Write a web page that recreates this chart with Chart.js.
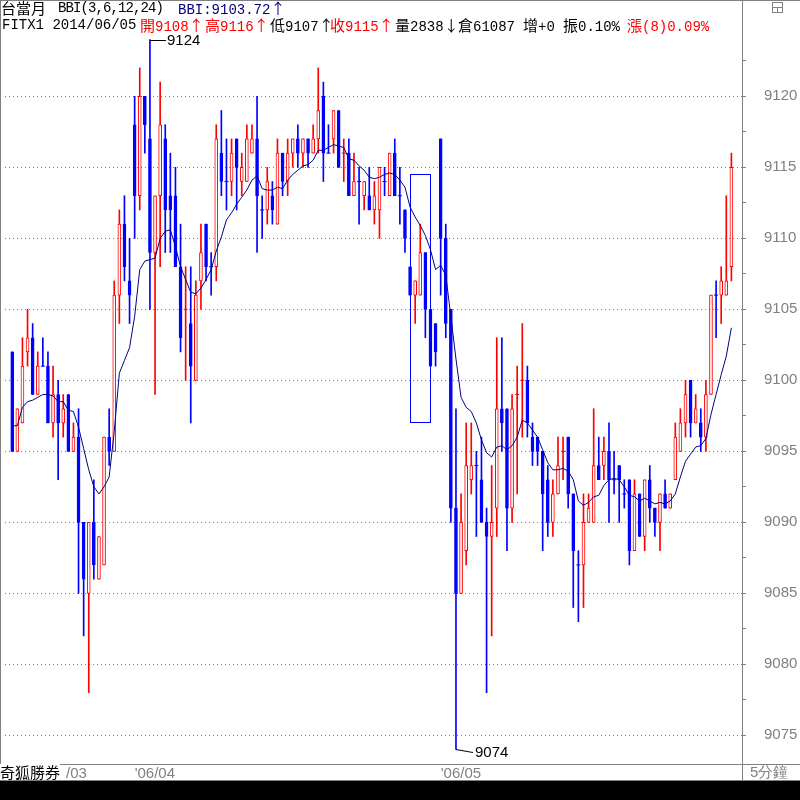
<!DOCTYPE html>
<html>
<head>
<meta charset="utf-8">
<script src="https://cdn.jsdelivr.net/npm/chart.js@4.4.1/dist/chart.umd.min.js"></script>
<style>
  body { margin: 0; background: #000; }
  #wrap { position: relative; width: 800px; height: 800px; background: #000; overflow: hidden; }
  #panel { position: absolute; left: 0; top: 0; width: 800px; height: 781px; background: #fff; }
  canvas { position: absolute; left: 0; top: 0; }
  .ln { position: absolute; background: #808080; }
  .t { position: absolute; white-space: pre; font-size: 14px; line-height: 16px;
       font-family: "Liberation Mono", "Noto Sans CJK TC", monospace; color: #000; }
  .cjk { font-family: "Noto Sans CJK TC", sans-serif; font-size: 15px; }
  .red { color: #ff0000; }
  .navy { color: #000080; }
  .ax { position: absolute; white-space: pre; font: 15px "Liberation Sans", sans-serif; color: #808080; line-height: 16px; }
</style>
</head>
<body>
<div id="wrap">
  <div id="panel"></div>
  <canvas id="chart" width="800" height="800"></canvas>

  <div class="ln" style="left:0;top:0;width:800px;height:1px"></div>
  <div class="ln" style="left:0;top:0;width:1px;height:781px"></div>
  <div class="ln" style="left:742px;top:0;width:1px;height:781px"></div>
  <div class="ln" style="left:0;top:764px;width:800px;height:1px"></div>
  <div class="ln" style="left:0;top:780px;width:800px;height:1px"></div>
  <div style="position:absolute;left:772px;top:2px;width:9px;height:9px;border:1px solid #808080"></div>
  <div class="ln" style="left:772px;top:7px;width:11px;height:1px"></div>
  <div class="ln" style="left:777px;top:7px;width:1px;height:5px"></div>

  <!-- header line 1 -->
  <div class="t cjk" style="left:1px;top:0px">台當月</div>
  <div class="t" style="left:58px;top:0px;letter-spacing:-0.9px">BBI(3,6,12,24)</div>
  <div class="t navy" style="left:178px;top:0px">BBI:9103.72<span class="cjk">↑</span></div>
  <!-- header line 2 -->
  <div class="t" style="left:2px;top:17px">FITX1 2014/06/05</div>
  <div class="t red" style="left:140px;top:17px"><span class="cjk">開</span>9108<span class="cjk">↑</span></div>
  <div class="t red" style="left:205px;top:17px"><span class="cjk">高</span>9116<span class="cjk">↑</span></div>
  <div class="t" style="left:270px;top:17px"><span class="cjk">低</span>9107<span class="cjk">↑</span></div>
  <div class="t red" style="left:330px;top:17px"><span class="cjk">收</span>9115<span class="cjk">↑</span></div>
  <div class="t" style="left:395px;top:17px"><span class="cjk">量</span>2838<span class="cjk">↓</span></div>
  <div class="t" style="left:458px;top:17px"><span class="cjk">倉</span>61087</div>
  <div class="t" style="left:523px;top:17px"><span class="cjk">增</span>+0</div>
  <div class="t" style="left:563px;top:17px"><span class="cjk">振</span>0.10%</div>
  <div class="t red" style="left:627px;top:17px"><span class="cjk">漲</span>(8)0.09%</div>

  <!-- bottom strip -->
  <div class="ax" style="left:66px;top:765px">/03</div>
  <div class="t cjk" style="left:0px;top:764px;background:#fff;line-height:16px">奇狐勝券</div>
  <div class="ax cjk" style="left:750px;top:764px;color:#808080">5分鐘</div>
</div>

<script>
// 5 minute bars, 06/03 (tail) - 06/04 - 06/05
const dayLabels = ["'06/04", "'06/05"];
const dayStarts = [24, 84];
const yTicks = [9075, 9080, 9085, 9090, 9095, 9100, 9105, 9110, 9115, 9120];

const opens = [
  9102, 9095, 9097, 9102, 9103, 9099, 9101, 9101, 9097, 9099, 9097, 9099, 9095, 9096, 9090, 9085, 9090, 9086, 9087, 9096, 9095, 9106, 9111, 9107,
  9118, 9113, 9120, 9117, 9109, 9113, 9117, 9113, 9113, 9108, 9105, 9104, 9100, 9107, 9111, 9108, 9108, 9116, 9114, 9114, 9117, 9114, 9114, 9116, 9117,
  9112, 9112, 9113, 9111, 9116, 9114, 9116, 9117, 9116, 9117, 9116, 9117, 9120, 9116, 9117, 9119, 9116, 9116, 9113, 9114, 9113, 9113, 9112, 9112, 9114, 9113, 9116, 9113,
  9112, 9108, 9106, 9106, 9109, 9105, 9104,
  9117, 9110, 9105, 9091, 9085, 9088, 9093, 9094, 9093, 9090, 9089, 9091, 9098, 9098, 9091, 9099, 9100, 9100, 9096, 9096, 9095, 9093, 9090, 9092, 9095, 9096,
  9092, 9087, 9087, 9090, 9090, 9094, 9094, 9095, 9093, 9094, 9092, 9093, 9088, 9092, 9089, 9093, 9091, 9090, 9092, 9091, 9093, 9095, 9097, 9100, 9097, 9097, 9096,
  9099, 9106, 9106, 9106, 9108
];
const highs = [
  9102, 9098, 9103, 9105, 9104, 9102, 9103, 9102, 9101, 9100, 9099, 9099, 9097, 9098, 9090, 9090, 9093, 9089, 9096, 9098, 9107, 9112, 9113, 9110,
  9120, 9122, 9120, 9124, 9113, 9121, 9118, 9116, 9115, 9111, 9108, 9108, 9107, 9111, 9111, 9109, 9118, 9119, 9117, 9117, 9117, 9116, 9118, 9118, 9120,
  9113, 9115, 9114, 9117, 9116, 9117, 9117, 9118, 9117, 9117, 9118, 9122, 9121, 9118, 9119, 9119, 9117, 9117, 9116, 9115, 9114, 9115, 9114, 9115, 9115, 9116, 9117, 9115,
  9112, 9108, 9107, 9111, 9109, 9105, 9104,
  9117, 9111, 9105, 9098, 9092, 9097, 9097, 9095, 9096, 9091, 9094, 9103, 9103, 9098, 9099, 9101, 9104, 9101, 9097, 9096, 9095, 9094, 9093, 9096, 9096, 9096,
  9092, 9088, 9092, 9092, 9098, 9096, 9096, 9097, 9095, 9094, 9093, 9093, 9093, 9092, 9093, 9094, 9091, 9092, 9093, 9092, 9097, 9098, 9100, 9100, 9099, 9098, 9100,
  9106, 9107, 9108, 9113, 9116
];
const lows = [
  9095, 9095, 9097, 9101, 9099, 9099, 9101, 9097, 9096, 9093, 9096, 9095, 9095, 9085, 9082, 9078, 9086, 9086, 9087, 9094, 9095, 9104, 9107, 9104,
  9110, 9112, 9116, 9105, 9099, 9108, 9109, 9109, 9108, 9102, 9100, 9097, 9100, 9105, 9107, 9106, 9107, 9113, 9112, 9113, 9112, 9113, 9114, 9116, 9109,
  9110, 9111, 9111, 9111, 9113, 9113, 9115, 9115, 9115, 9115, 9116, 9116, 9114, 9116, 9116, 9115, 9114, 9113, 9113, 9111, 9112, 9112, 9111, 9110, 9113, 9113, 9113, 9111,
  9109, 9106, 9104, 9106, 9103, 9101, 9101,
  9106, 9103, 9090, 9074, 9085, 9087, 9092, 9089, 9090, 9078, 9082, 9089, 9095, 9088, 9090, 9092, 9096, 9096, 9094, 9094, 9088, 9089, 9089, 9092, 9093, 9091,
  9084, 9083, 9084, 9090, 9090, 9093, 9093, 9090, 9092, 9090, 9091, 9087, 9088, 9089, 9088, 9090, 9089, 9088, 9091, 9091, 9093, 9095, 9096, 9096, 9097, 9095, 9095,
  9099, 9103, 9104, 9106, 9107
];
const closes = [
  9095, 9098, 9101, 9103, 9099, 9101, 9101, 9097, 9099, 9097, 9098, 9095, 9096, 9090, 9086, 9090, 9087, 9089, 9096, 9095, 9106, 9111, 9108, 9106,
  9113, 9120, 9118, 9109, 9113, 9118, 9112, 9112, 9108, 9103, 9105, 9101, 9106, 9109, 9108, 9108, 9117, 9114, 9114, 9116, 9115, 9115, 9117, 9117, 9113,
  9112, 9114, 9112, 9116, 9114, 9116, 9117, 9116, 9117, 9116, 9117, 9119, 9116, 9116, 9119, 9115, 9116, 9113, 9114, 9114, 9114, 9112, 9113, 9115, 9114, 9116, 9113, 9113,
  9110, 9106, 9107, 9109, 9105, 9101, 9102,
  9110, 9104, 9091, 9085, 9090, 9094, 9094, 9094, 9090, 9089, 9090, 9098, 9097, 9091, 9098, 9099, 9100, 9097, 9095, 9095, 9092, 9090, 9092, 9094, 9095, 9092,
  9088, 9087, 9090, 9091, 9094, 9093, 9095, 9093, 9093, 9093, 9092, 9088, 9092, 9089, 9093, 9091, 9090, 9092, 9091, 9092, 9096, 9097, 9099, 9097, 9098, 9096, 9099,
  9106, 9106, 9107, 9107, 9115
];
// BBI(3,6,12,24)
const bbi = [
  9096.8, 9096.8, 9098.1, 9098.5, 9098.6, 9098.8, 9099.0, 9099.0, 9098.9, 9098.5, 9098.5, 9097.9, 9097.8, 9096.7, 9095.2, 9093.7, 9092.5, 9092.0, 9092.5, 9093.2, 9096.4, 9100.5, 9101.4, 9102.3,
  9104.5, 9107.8, 9108.4, 9108.5, 9108.6, 9110.0, 9110.5, 9110.6, 9109.4, 9108.0, 9107.1, 9106.2, 9106.1, 9106.5, 9107.1, 9107.8, 9109.1, 9110.1, 9111.3, 9111.8, 9112.4, 9112.9, 9113.4, 9114.1, 9114.4,
  9113.5, 9113.4, 9113.4, 9113.6, 9113.5, 9114.1, 9114.5, 9114.8, 9115.1, 9115.2, 9115.5, 9116.2, 9116.2, 9116.4, 9116.6, 9116.5, 9116.4, 9115.6, 9115.5, 9115.1, 9114.8, 9114.3, 9114.2, 9114.3, 9114.5, 9114.6, 9114.5, 9114.1,
  9113.6, 9112.2, 9111.5, 9110.9, 9110.2, 9109.2, 9107.8,
  9108.1, 9107.4, 9104.5, 9101.5, 9098.8, 9098.1, 9097.8, 9097.0, 9095.8, 9094.9, 9094.6, 9095.3, 9095.4, 9095.1, 9095.4, 9096.0, 9097.2, 9097.0, 9096.5, 9096.0, 9095.1, 9094.2, 9093.7, 9093.7, 9093.8, 9093.6,
  9093.0, 9091.5, 9091.2, 9091.4, 9091.8, 9091.9, 9092.6, 9093.0, 9093.1, 9093.0, 9092.5, 9091.9, 9091.8, 9091.5, 9091.7, 9091.5, 9091.3, 9091.4, 9091.3, 9091.5, 9092.0, 9093.2, 9094.3, 9094.8, 9095.3, 9095.4, 9095.9,
  9097.6, 9099.0, 9100.4, 9101.7, 9103.7
];
// highlighted box (bar index range and price range)
const boxBars = [78, 82];
const boxPrices = [9114.5, 9097.1];

const RED = '#ff0000', BLUE = '#0000ff', NAVY = '#000080', GREY = '#808080';

// up bar (red) when close > open; doji coloured by change from previous close
function isUp(i) {
  if (closes[i] !== opens[i]) return closes[i] > opens[i];
  return i > 0 && closes[i] > closes[i - 1];
}
const barColor = c => (c.raw && isUp(c.raw.x)) ? RED : BLUE;

const idx = opens.map((v, i) => i);
const wickData = idx.map(i => ({x: i, y: [lows[i], highs[i]]}));
const bodyData = idx.filter(i => opens[i] !== closes[i]).map(i => ({x: i, y: [opens[i], closes[i]]}));
const dojiData = idx.filter(i => opens[i] === closes[i]).map(i => ({x: i, y: opens[i]}));
const bbiData = idx.map(i => ({x: i, y: bbi[i]}));

const minorTicks = yTicks.map(v => v + 2.5).filter(v => v < 9124);

// box + high/low markers
const marks = {
  id: 'marks',
  beforeDatasetsDraw(chart) {
    const {ctx, scales: {x, y}} = chart;
    const x0 = Math.round(x.getPixelForValue(boxBars[0])) + 0.5;
    const x1 = Math.round(x.getPixelForValue(boxBars[1])) + 0.5;
    const y0 = Math.round(y.getPixelForValue(boxPrices[0])) + 0.5;
    const y1 = Math.round(y.getPixelForValue(boxPrices[1])) + 0.5;
    ctx.save();
    ctx.strokeStyle = BLUE;
    ctx.lineWidth = 1;
    ctx.strokeRect(x0, y0, x1 - x0, y1 - y0);
    ctx.restore();
  },
  afterDatasetsDraw(chart) {
    const {ctx, scales: {x, y}} = chart;
    const hi = Math.max(...highs), hiAt = highs.indexOf(hi);
    const lo = Math.min(...lows), loAt = lows.indexOf(lo);
    ctx.save();
    ctx.strokeStyle = '#000';
    ctx.fillStyle = '#000';
    ctx.lineWidth = 1;
    ctx.font = '15px "Liberation Sans", sans-serif';
    ctx.textBaseline = 'middle';

    let px = x.getPixelForValue(hiAt), py = Math.round(y.getPixelForValue(hi)) + 0.5;
    ctx.beginPath();
    ctx.moveTo(px, py);
    ctx.lineTo(px + 16, py);
    ctx.stroke();
    ctx.fillText(String(hi), px + 17, py);

    px = x.getPixelForValue(loAt); py = y.getPixelForValue(lo);
    ctx.beginPath();
    ctx.moveTo(px, py);
    ctx.lineTo(px + 17, py + 3);
    ctx.stroke();
    ctx.fillText(String(lo), px + 19, py + 3);
    ctx.restore();
  }
};

new Chart(document.getElementById('chart'), {
  type: 'bar',
  data: {
    datasets: [
      {
        label: 'BBI',
        type: 'line',
        data: bbiData,
        borderColor: NAVY,
        borderWidth: 1,
        pointRadius: 0,
        tension: 0,
        order: 0
      },
      {
        label: 'body',
        data: bodyData,
        grouped: false,
        barThickness: 3,
        borderWidth: 1,
        borderSkipped: false,
        borderColor: barColor,
        backgroundColor: c => (c.raw && isUp(c.raw.x)) ? '#ffffff' : BLUE,
        order: 1
      },
      {
        label: 'doji',
        type: 'line',
        data: dojiData,
        showLine: false,
        pointStyle: 'line',
        pointRadius: 2,
        pointBorderWidth: 1,
        pointBorderColor: barColor,
        order: 1
      },
      {
        label: 'wick',
        data: wickData,
        grouped: false,
        barThickness: 1,
        borderWidth: 0,
        backgroundColor: barColor,
        order: 2
      }
    ]
  },
  options: {
    responsive: false,
    animation: false,
    devicePixelRatio: 1,
    layout: { padding: { top: 34, left: 1, right: 0, bottom: 19 } },
    plugins: { legend: { display: false }, tooltip: { enabled: false } },
    scales: {
      x: {
        type: 'linear',
        min: -1.42,
        max: 143.08,
        offset: false,
        grid: { display: false, drawTicks: false },
        border: { display: false },
        afterFit: s => { s.height = 17; },
        afterBuildTicks: s => { s.ticks = dayStarts.map(v => ({value: v})); },
        ticks: {
          autoSkip: false,
          maxRotation: 0,
          align: 'start',
          padding: 1,
          color: GREY,
          font: { family: '"Liberation Sans", sans-serif', size: 15 },
          callback: v => dayLabels[dayStarts.indexOf(v)]
        }
      },
      y: {
        position: 'right',
        min: 9072.98,
        max: 9124.39,
        afterFit: s => { s.width = 58; },
        afterBuildTicks: s => {
          s.ticks = yTicks.concat(minorTicks).sort((a, b) => a - b).map(v => ({value: v}));
        },
        border: { display: false, dash: [1, 3] },
        grid: {
          color: c => (c.tick && yTicks.includes(c.tick.value)) ? GREY : 'rgba(0,0,0,0)',
          tickColor: GREY,
          tickLength: 4,
          tickBorderDash: []
        },
        ticks: {
          autoSkip: false,
          padding: 18,
          color: GREY,
          font: { family: '"Liberation Sans", sans-serif', size: 15 },
          callback: v => yTicks.includes(v) ? String(v) : ''
        }
      }
    }
  },
  plugins: [marks]
});
</script>
</body>
</html>
